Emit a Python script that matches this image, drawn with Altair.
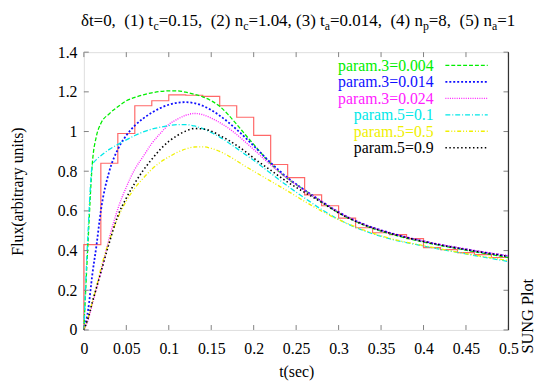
import altair as alt
import pandas as pd

# ---------------- data ----------------
t_grid = [0, 0.005, 0.01, 0.015, 0.02, 0.03, 0.04, 0.05, 0.06, 0.07, 0.08, 0.09,
          0.10, 0.11, 0.12, 0.13, 0.14, 0.15, 0.16, 0.17, 0.18, 0.19, 0.20, 0.22,
          0.24, 0.26, 0.28, 0.30, 0.33, 0.36, 0.40, 0.45, 0.50]

green = [0, 0.45, 0.84, 0.98, 1.04, 1.09, 1.125, 1.155, 1.172, 1.185, 1.195, 1.202,
         1.205, 1.205, 1.198, 1.188, 1.175, 1.155, 1.127, 1.085, 1.036, 0.985, 0.935, 0.838,
         0.762, 0.705, 0.645, 0.59, 0.528, 0.485, 0.443, 0.402, 0.365]
blue = [0, 0.10, 0.28, 0.43, 0.60, 0.80, 0.91, 0.98, 1.03, 1.066, 1.095, 1.118,
        1.135, 1.145, 1.148, 1.143, 1.13, 1.108, 1.08, 1.047, 1.01, 0.97, 0.928, 0.843,
        0.767, 0.705, 0.648, 0.594, 0.532, 0.49, 0.447, 0.406, 0.372]
magenta = [0, 0.05, 0.13, 0.21, 0.29, 0.465, 0.61, 0.72, 0.81, 0.875, 0.94, 0.99,
           1.035, 1.062, 1.082, 1.091, 1.085, 1.068, 1.045, 1.018, 0.985, 0.948, 0.91, 0.832,
           0.762, 0.703, 0.648, 0.594, 0.532, 0.49, 0.448, 0.408, 0.374]
cyan = [0, 0.50, 0.83, 0.86, 0.878, 0.91, 0.935, 0.958, 0.98, 0.998, 1.012, 1.022,
        1.03, 1.035, 1.035, 1.028, 1.015, 0.995, 0.972, 0.945, 0.915, 0.885, 0.855, 0.79,
        0.725, 0.665, 0.607, 0.557, 0.5, 0.46, 0.423, 0.383, 0.345]
yellow = [0, 0.06, 0.14, 0.22, 0.31, 0.45, 0.565, 0.65, 0.715, 0.765, 0.81, 0.845,
          0.872, 0.895, 0.912, 0.922, 0.923, 0.915, 0.90, 0.878, 0.852, 0.825, 0.80, 0.75,
          0.70, 0.648, 0.599, 0.556, 0.503, 0.462, 0.425, 0.385, 0.35]
black = [0, 0.06, 0.14, 0.215, 0.29, 0.44, 0.575, 0.665, 0.74, 0.805, 0.86, 0.91,
         0.95, 0.98, 1.002, 1.015, 1.013, 1.002, 0.98, 0.957, 0.93, 0.90, 0.866, 0.805,
         0.745, 0.693, 0.643, 0.59, 0.53, 0.488, 0.446, 0.405, 0.37]

series_labels = ["param.3=0.004", "param.3=0.014", "param.3=0.024",
                 "param.5=0.1", "param.5=0.5", "param.5=0.9"]
series_values = [green, blue, magenta, cyan, yellow, black]

hist_left = [0, 0.02, 0.04, 0.06, 0.08, 0.10, 0.12, 0.14, 0.16, 0.18, 0.20, 0.22, 0.24,
             0.26, 0.28, 0.30, 0.32, 0.34, 0.36, 0.38, 0.40, 0.42, 0.44, 0.46, 0.48]
hist_vals = [0.43, 0.84, 0.99, 1.13, 1.155, 1.185, 1.183, 1.177, 1.13, 1.072, 0.981, 0.834,
             0.768, 0.681, 0.626, 0.564, 0.515, 0.49, 0.48, 0.46, 0.415, 0.405, 0.39, 0.38, 0.365]
hist_end = 0.5

x_ticks = [0, 0.05, 0.1, 0.15, 0.2, 0.25, 0.3, 0.35, 0.4, 0.45, 0.5]
y_ticks = [0, 0.2, 0.4, 0.6, 0.8, 1.0, 1.2, 1.4]

title_parts = [("δt=0,\u00a0\u00a0(1) t", False), ("c", True), ("=0.15,\u00a0\u00a0(2) n", False),
               ("c", True), ("=1.04, (3) t", False), ("a", True),
               ("=0.014,\u00a0\u00a0(4) n", False), ("p", True), ("=8,\u00a0\u00a0(5) n", False),
               ("a", True), ("=1", False)]

# ---------------- styling ----------------
FONT = "Liberation Serif, Times New Roman, serif"
W, H = 431, 282
colors = ["#00ee00", "#1010ff", "#ff20ff", "#00e8e8", "#f0f000", "#000000"]
dashes = [[4, 2], [2, 2], [1, 1.3], [5, 2, 1, 2], [4, 2, 1, 2, 1, 2], [1.5, 2.5]]
widths = [1.3, 1.8, 1.4, 1.3, 1.3, 1.6]

x_scale = alt.Scale(domain=[0, 0.5], nice=False, zero=False)
y_scale = alt.Scale(domain=[0, 1.4], nice=False, zero=False)

x_axis = alt.Axis(values=x_ticks, format="~g", title="t(sec)", grid=False, domain=False,
                  ticks=False, tickSize=0, labelFont=FONT, labelFontSize=16, labelColor="black",
                  labelPadding=11, labelFlush=False, labelOverlap=False,
                  titleFont=FONT, titleFontSize=16, titleFontWeight="normal", titleColor="black",
                  titlePadding=7)
y_axis = alt.Axis(values=y_ticks, format="~g", title="Flux(arbitrary units)", grid=False,
                  domain=False, ticks=False, tickSize=0, labelFont=FONT, labelFontSize=16,
                  labelColor="black", labelPadding=7, labelOverlap=False, labelFlush=False,
                  titleFont=FONT, titleFontSize=16, titleFontWeight="normal", titleColor="black",
                  titleAngle=-90, titleX=-67, titleY=H / 2, titleAlign="center",
                  titleBaseline="middle")

X = alt.X("t:Q", scale=x_scale, axis=x_axis)
Y = alt.Y("v:Q", scale=y_scale, axis=y_axis)

layers = []

# histogram as steps
hx = [hist_left[0]] + hist_left + [hist_end]
hy = [0] + hist_vals + [hist_vals[-1]]
hist_df = pd.DataFrame({"t": hx, "v": hy})
layers.append(alt.Chart(hist_df).mark_line(interpolate="step-after", color="#ff6868",
                                           strokeWidth=1.2).encode(x=X, y=Y))

# model curves
for lab, vals, c, d, w in zip(series_labels, series_values, colors, dashes, widths):
    df = pd.DataFrame({"t": t_grid, "v": vals})
    layers.append(alt.Chart(df).mark_line(interpolate="monotone", color=c, strokeDash=d,
                                          strokeWidth=w).encode(x=X, y=Y))

# inward ticks
xt = pd.DataFrame({"t": x_ticks})
yt = pd.DataFrame({"v": y_ticks})
tick_col = "#808080"
layers.append(alt.Chart(xt).mark_rule(color=tick_col, strokeWidth=1).encode(
    x=X, y=alt.value(H), y2=alt.value(H - 5)))
layers.append(alt.Chart(xt).mark_rule(color=tick_col, strokeWidth=1).encode(
    x=X, y=alt.value(0), y2=alt.value(5)))
layers.append(alt.Chart(yt).mark_rule(color=tick_col, strokeWidth=1).encode(
    y=Y, x=alt.value(0), x2=alt.value(5)))
layers.append(alt.Chart(yt).mark_rule(color=tick_col, strokeWidth=1).encode(
    y=Y, x=alt.value(W), x2=alt.value(W - 5)))
# darker right border
layers.append(alt.Chart(pd.DataFrame({"a": [0]})).mark_rule(color="#333", strokeWidth=1.2).encode(
    x=alt.value(W), y=alt.value(0), y2=alt.value(H)))

# legend (manual, inside top-right)
row0, row_step = 14, 16.7
for i, (lab, c, d, w) in enumerate(zip(series_labels, colors, dashes, widths)):
    ry = row0 + i * row_step
    ldf = pd.DataFrame({"label": [lab]})
    layers.append(alt.Chart(ldf).mark_text(font=FONT, fontSize=16, align="right",
                                           baseline="middle", color=c).encode(
        x=alt.value(355), y=alt.value(ry), text="label:N"))
    layers.append(alt.Chart(ldf).mark_rule(color=c, strokeDash=d, strokeWidth=w).encode(
        x=alt.value(367), x2=alt.value(410), y=alt.value(ry - 0.5)))

# title with subscripts
TW = {"δ": 0.5, "t": 0.278, "=": 0.564, ",": 0.25, ".": 0.25, " ": 0.25, "\u00a0": 0.25,
      "(": 0.333, ")": 0.333, "n": 0.5, "c": 0.444, "a": 0.444, "p": 0.5}
TF, SF = 17.2, 12
tx = -3.0
for txt, sub in title_parts:
    fs = SF if sub else TF
    tdf = pd.DataFrame({"s": [txt]})
    layers.append(alt.Chart(tdf).mark_text(font=FONT, fontSize=fs, align="left",
                                           baseline="alphabetic", color="black").encode(
        x=alt.value(tx), y=alt.value(-27 + (4 if sub else 0)), text="s:N"))
    tx += sum(TW.get(ch, 0.5) for ch in txt) * fs

# SUNG Plot label
layers.append(alt.Chart(pd.DataFrame({"s": ["SUNG Plot"]})).mark_text(
    font=FONT, fontSize=16.5, angle=270, align="center", baseline="middle", color="black").encode(
    x=alt.value(W + 20), y=alt.value(268), text="s:N"))

chart = alt.layer(*layers).properties(
    width=W, height=H,
    autosize=alt.AutoSizeParams(type="none"),
    padding={"left": 77, "top": 42, "right": 29, "bottom": 50},
).configure_view(stroke="#8a8a8a", strokeWidth=1.5).configure(background="white")

chart.save("out.html", embed_options={"renderer": "svg", "actions": False})
